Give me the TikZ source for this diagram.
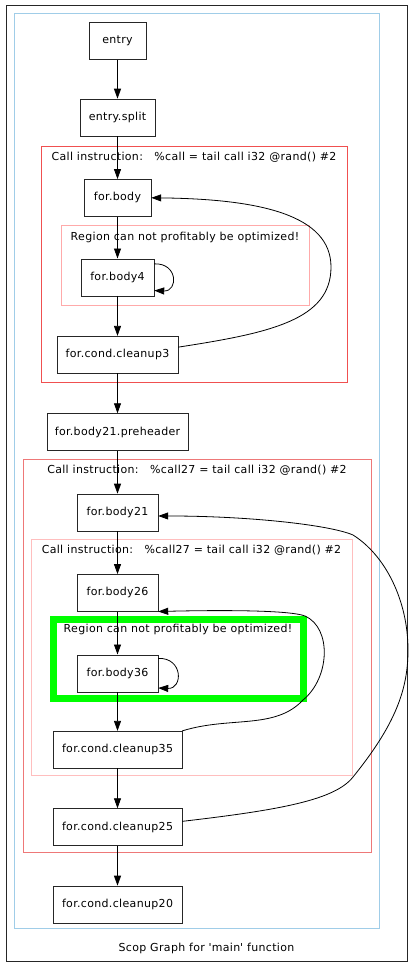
\documentclass[tikz,border=0pt]{standalone}
\usepackage{fontspec}
\setmainfont{DejaVu Sans}[LetterSpace=3]
\usetikzlibrary{positioning,arrows.meta}

\definecolor{clusterblue}{RGB}{160,205,232}
\definecolor{clusterred}{RGB}{240,80,80}
\definecolor{clusterpink}{RGB}{255,170,170}
\definecolor{clusterredlight}{RGB}{238,120,120}
\definecolor{clusterpinklight}{RGB}{255,190,190}
\definecolor{regiongreen}{RGB}{0,255,0}

\begin{document}
\begin{tikzpicture}[
        x=1pt, y=-1pt,
        font=\fontsize{11}{13}\selectfont,
        block/.style={rectangle, draw=black!85, fill=white, minimum height=37pt, inner sep=0pt},
        cluster/.style={line width=1.1pt},
        edge/.style={-{Triangle[length=10pt,width=7pt]}, black, line width=0.8pt},
        clusterlabel/.style={inner sep=0pt},
    ]
    \useasboundingbox (0,0) rectangle (414,967);

    % clusters
    \draw[black!85, line width=1pt] (6.5,5.5) rectangle (407.5,961.5);
    \draw[cluster, clusterblue] (14.5,13.5) rectangle (379.5,928.5);
    \draw[cluster, clusterred] (41.5,146.5) rectangle (347.5,382.5);
    \draw[cluster, clusterpink] (61.5,225.5) rectangle (309.5,305.5);
    \draw[cluster, clusterredlight] (23.5,459.5) rectangle (371.5,852.5);
    \draw[cluster, clusterpinklight] (31.5,539.5) rectangle (352.5,775.5);
    \draw[regiongreen, line width=7pt] (53,619) rectangle (303,698);

    \node[clusterlabel] (callA) at (194,157) {Call instruction:\ \ \ \%call = tail call i32 @rand() \#2};
    \node[clusterlabel] (regionA) at (185,237) {Region can not profitably be optimized!};
    \node[clusterlabel] (callB) at (197,470) {Call instruction:\ \ \ \%call27 = tail call i32 @rand() \#2};
    \node[clusterlabel] (callC) at (191.5,550) {Call instruction:\ \ \ \%call27 = tail call i32 @rand() \#2};
    \node[clusterlabel] (regionB) at (178,629) {Region can not profitably be optimized!};
    \node[clusterlabel] (caption) at (206.5,948) {Scop Graph for \textquotesingle main\textquotesingle\ function};

    % basic blocks
    \node[block, minimum width=57pt] (entry) at (117.5,41) {entry};
    \node[block, minimum width=75pt] (split) [below=39pt of entry] {entry.split};
    \node[block, minimum width=67pt] (body) [below=43pt of split] {for.body};
    \node[block, minimum width=73pt] (body4) [below=42pt of body] {for.body4};
    \node[block, minimum width=121pt] (cleanup3) [below=40pt of body4] {for.cond.cleanup3};
    \node[block, minimum width=141pt] (preheader) [below=40pt of cleanup3] {for.body21.preheader};
    \node[block, minimum width=81pt] (body21) [below=43pt of preheader] {for.body21};
    \node[block, minimum width=81pt] (body26) [below=43pt of body21] {for.body26};
    \node[block, minimum width=81pt] (body36) [below=43pt of body26] {for.body36};
    \node[block, minimum width=129pt] (cleanup35) [below=39pt of body36] {for.cond.cleanup35};
    \node[block, minimum width=129pt] (cleanup25) [below=40pt of cleanup35] {for.cond.cleanup25};
    \node[block, minimum width=129pt] (cleanup20) [below=40pt of cleanup25] {for.cond.cleanup20};

    % control flow
    \draw[edge] (entry) -- (split);
    \draw[edge] (split) -- (body);
    \draw[edge] (body) -- (body4);
    \draw[edge] (body4) -- (cleanup3);
    \draw[edge] (cleanup3) -- (preheader);
    \draw[edge] (preheader) -- (body21);
    \draw[edge] (body21) -- (body26);
    \draw[edge] (body26) -- (body36);
    \draw[edge] (body36) -- (cleanup35);
    \draw[edge] (cleanup35) -- (cleanup25);
    \draw[edge] (cleanup25) -- (cleanup20);

    % loops
    \draw[edge] (body4.20) .. controls +(24,-1) and +(24,1) .. (body4.-20);
    \draw[edge] (body36.20) .. controls +(25,-1) and +(25,1) .. (body36.-20);
    \draw[edge] (cleanup3.7) .. controls (270,333) and (331,320) .. (331,267)
        .. controls (331,215) and (260,199) .. (body.east);
    \draw[edge] (cleanup35.north east) .. controls (230,716) and (275,730) .. (303,700)
        .. controls (330,678) and (332,628) .. (305,616)
        .. controls (290,610) and (220,610) .. (body26.south east);
    \draw[edge] (cleanup25.5) .. controls (280,810) and (335,800) .. (353,777)
        .. controls (395,725) and (408,690) .. (408,650)
        .. controls (408,600) and (385,555) .. (353,535)
        .. controls (330,525) and (250,516) .. (body21.-5);
\end{tikzpicture}
\end{document}
